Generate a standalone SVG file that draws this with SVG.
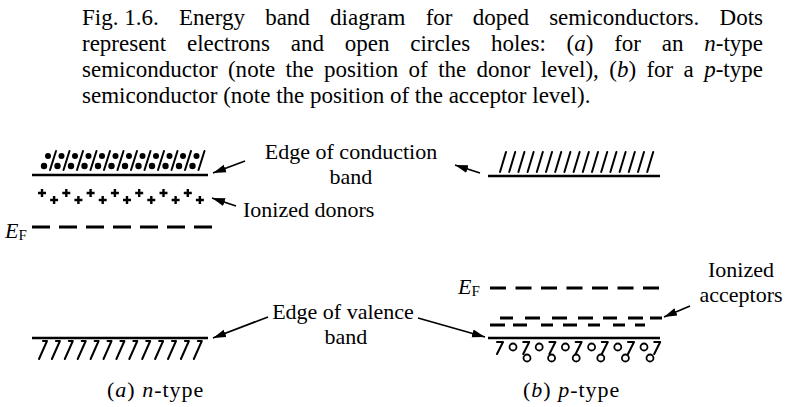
<svg xmlns="http://www.w3.org/2000/svg" width="787" height="407" viewBox="0 0 787 407">
<style>
.cap{font-family:"Liberation Serif","Times New Roman",serif;font-size:23px;fill:#000}
.lbl{font-family:"Liberation Serif","Times New Roman",serif;font-size:22px;fill:#000}
.sub{font-size:15px;font-style:normal}
.it{font-style:italic}
.band{stroke:#000;stroke-width:2.6;fill:none}
.hatch{stroke:#000;stroke-width:2;fill:none;stroke-linecap:round;stroke-linejoin:round}
.plus{stroke:#000;stroke-width:2.4;fill:none}
.dash{stroke:#000;stroke-width:3;fill:none}
.hole{stroke:#000;stroke-width:1.8;fill:none}
.arrow{stroke:#000;stroke-width:1.8;fill:none}
</style>
<defs>
<marker id="ah" markerUnits="userSpaceOnUse" markerWidth="14" markerHeight="10" refX="13" refY="5" orient="auto"><path d="M0,1 L13,5 L0,9 Z" fill="#000"/></marker>
</defs>
<rect width="787" height="407" fill="#fff"/>

<g id="caption">
<text class="cap" x="82" y="25">Fig. 1.6.</text>
<text class="cap" x="178.9" y="25" word-spacing="14.45" textLength="584.1" lengthAdjust="spacing">Energy band diagram for doped semiconductors. Dots</text>
<text class="cap" x="82" y="51" word-spacing="15.05" textLength="681" lengthAdjust="spacing">represent electrons and open circles holes: (<tspan class="it">a</tspan>) for an <tspan class="it">n</tspan>-type</text>
<text class="cap" x="82" y="77" word-spacing="4.55" textLength="681" lengthAdjust="spacing">semiconductor (note the position of the donor level), (<tspan class="it">b</tspan>) for a <tspan class="it">p</tspan>-type</text>
<text class="cap" x="82" y="103">semiconductor (note the position of the acceptor level).</text>
</g>

<g id="a-conduction-band">
<path class="band" d="M32,175 H208"/>
<path class="hatch" d="M50,170 L56,151 M63.5,170 L69.5,151 M77,170 L83,151 M90.5,170 L96.5,151 M104,170 L110,151 M117.5,170 L123.5,151 M131,170 L137,151 M144.5,170 L150.5,151 M158,170 L164,151 M171.5,170 L177.5,151 M185,170 L191,151 M198.5,170 L204.5,151"/>
<g fill="#000">
<circle cx="44" cy="166" r="3.2"/><circle cx="57.5" cy="166" r="3.2"/><circle cx="71" cy="166" r="3.2"/><circle cx="84.5" cy="166" r="3.2"/><circle cx="98" cy="166" r="3.2"/><circle cx="111.5" cy="166" r="3.2"/><circle cx="125" cy="166" r="3.2"/><circle cx="138.5" cy="166" r="3.2"/><circle cx="152" cy="166" r="3.2"/><circle cx="165.5" cy="166" r="3.2"/><circle cx="179" cy="166" r="3.2"/><circle cx="192.5" cy="166" r="3.2"/>
<circle cx="48" cy="156" r="3"/><circle cx="61.5" cy="156" r="3"/><circle cx="75" cy="156" r="3"/><circle cx="88.5" cy="156" r="3"/><circle cx="102" cy="156" r="3"/><circle cx="115.5" cy="156" r="3"/><circle cx="129" cy="156" r="3"/><circle cx="142.5" cy="156" r="3"/><circle cx="156" cy="156" r="3"/><circle cx="169.5" cy="156" r="3"/><circle cx="183" cy="156" r="3"/><circle cx="196.5" cy="156" r="3"/>
</g>
</g>

<g id="a-donors">
<path class="plus" d="M38,193 h8 M42,189 v8 M50.1,200 h8 M54.1,196 v8 M62.3,193 h8 M66.3,189 v8 M74.4,200 h8 M78.4,196 v8 M86.6,193 h8 M90.6,189 v8 M98.7,200 h8 M102.7,196 v8 M110.9,193 h8 M114.9,189 v8 M123,200 h8 M127,196 v8 M135.2,193 h8 M139.2,189 v8 M147.3,200 h8 M151.3,196 v8 M159.5,193 h8 M163.5,189 v8 M171.6,200 h8 M175.6,196 v8 M183.8,193 h8 M187.8,189 v8 M195.9,200 h8 M199.9,196 v8"/>
</g>

<g id="a-fermi">
<text class="lbl it" x="5" y="238">E<tspan class="sub" dy="2">F</tspan></text>
<path class="dash" d="M32,227 H212" stroke-dasharray="18 9"/>
</g>

<g id="a-valence-band">
<path class="band" d="M32,338 H208"/>
<path class="hatch" d="M43,341 H47 L39,359 M55.9,341 H59.9 L51.9,359 M68.8,341 H72.8 L64.8,359 M81.7,341 H85.7 L77.7,359 M94.6,341 H98.6 L90.6,359 M107.5,341 H111.5 L103.5,359 M120.4,341 H124.4 L116.4,359 M133.3,341 H137.3 L129.3,359 M146.2,341 H150.2 L142.2,359 M159.1,341 H163.1 L155.1,359 M172,341 H176 L168,359 M184.9,341 H188.9 L180.9,359 M197.8,341 H201.8 L193.8,359"/>
</g>

<g id="b-conduction-band">
<path class="band" d="M488,176 H660"/>
<path class="hatch" d="M500,172 L506,152 M509.2,172 L515.2,152 M518.4,172 L524.4,152 M527.6,172 L533.6,152 M536.8,172 L542.8,152 M546,172 L552,152 M555.2,172 L561.2,152 M564.4,172 L570.4,152 M573.6,172 L579.6,152 M582.8,172 L588.8,152 M592,172 L598,152 M601.2,172 L607.2,152 M610.4,172 L616.4,152 M619.6,172 L625.6,152 M628.8,172 L634.8,152 M638,172 L644,152 M647.2,172 L653.2,152"/>
</g>

<g id="b-fermi">
<text class="lbl it" x="458" y="294">E<tspan class="sub" dy="2">F</tspan></text>
<path class="dash" d="M490,288 H660" stroke-dasharray="16 9.5"/>
</g>

<g id="b-acceptors">
<path class="dash" d="M500,318 H513 M525,318 H540 M552,318 H567 M578,318 H593 M603,318 H617 M628,318 H643 M650,318 H662"/>
<path class="dash" d="M490,325 H505 M513,325 H527 M541,325 H553 M563,325 H577 M588,325 H600 M613,325 H625 M635,325 H645"/>
</g>

<g id="b-valence-band">
<path class="band" d="M488,338 H660"/>
<path class="hatch" d="M497,342 H503 L497,354 M523.2,342 H529.2 L523.2,354 M549.4,342 H555.4 L549.4,354 M575.6,342 H581.6 L575.6,354 M601.8,342 H607.8 L601.8,354 M628,342 H634 L628,354 M654.2,342 H660.2 L654.2,354"/>
<g class="hole">
<circle cx="513" cy="347" r="3.5"/><circle cx="539.2" cy="347" r="3.5"/><circle cx="565.4" cy="347" r="3.5"/><circle cx="591.6" cy="347" r="3.5"/><circle cx="617.8" cy="347" r="3.5"/><circle cx="644" cy="347" r="3.5"/>
<circle cx="527" cy="358" r="3.5"/><circle cx="551.6" cy="358" r="3.5"/><circle cx="576.2" cy="358" r="3.5"/><circle cx="600.8" cy="358" r="3.5"/><circle cx="625.4" cy="358" r="3.5"/><circle cx="650" cy="358" r="3.5"/>
</g>
</g>

<g id="label-conduction">
<text class="lbl" x="351" y="159" text-anchor="middle">Edge of conduction</text>
<text class="lbl" x="351" y="184" text-anchor="middle">band</text>
</g>
<g id="label-donors"><text class="lbl" x="243" y="217">Ionized donors</text></g>
<g id="label-valence">
<text class="lbl" x="343" y="319" text-anchor="middle">Edge of valence</text>
<text class="lbl" x="346" y="344" text-anchor="middle">band</text>
</g>
<g id="label-acceptors">
<text class="lbl" x="741" y="277" text-anchor="middle">Ionized</text>
<text class="lbl" x="741" y="302" text-anchor="middle">acceptors</text>
</g>

<g id="connectors">
<path class="arrow" d="M245,161 L213,173" marker-end="url(#ah)"/>
<path class="arrow" d="M480,173 L455,165" marker-end="url(#ah)"/>
<path class="arrow" d="M236,206 L212,198" marker-end="url(#ah)"/>
<path class="arrow" d="M268,317 L213,338" marker-end="url(#ah)"/>
<path class="arrow" d="M418,318 L485,337" marker-end="url(#ah)"/>
<path class="arrow" d="M690,306 L664,317" marker-end="url(#ah)"/>
</g>

<g id="subcaptions">
<text class="lbl" x="107" y="397" letter-spacing="1">(<tspan class="it">a</tspan>)  <tspan class="it">n</tspan>-type</text>
<text class="lbl" x="523" y="397" letter-spacing="1">(<tspan class="it">b</tspan>)  <tspan class="it">p</tspan>-type</text>
</g>
</svg>
